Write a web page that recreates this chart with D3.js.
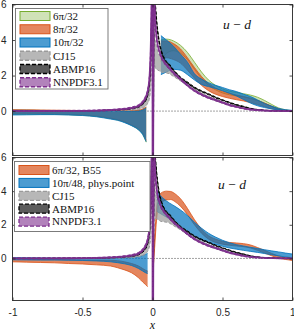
<!DOCTYPE html>
<html><head><meta charset="utf-8">
<script src="https://cdn.jsdelivr.net/npm/d3@7"></script>
<style>body{margin:0;background:#fff}svg{display:block}</style>
</head><body><svg id="c" width="294" height="330"></svg>
<script>
// ---------- ticks ----------
const xTicks = [-1, -0.5, 0, 0.5, 1];
const xTickLabels = ["-1", "-0.5", "0", "0.5", "1"];
const yTicks = [0, 2, 4, 6];
const yTickLabels = ["0", "2", "4", "6"];

// ---------- legends ----------
const topLegend = ["6π/32", "8π/32", "10π/32", "CJ15", "ABMP16", "NNPDF3.1"];
const botLegend = ["6π/32, B55", "10π/48, phys.point", "CJ15", "ABMP16", "NNPDF3.1"];

// ---------- top panel lattice (x<0) ----------
const tNegX = [-1, -0.9, -0.8, -0.7, -0.6, -0.5, -0.4, -0.3, -0.25, -0.2, -0.15, -0.1, -0.07, -0.045];
const g32NegLo = [-0.18, -0.18, -0.18, -0.19, -0.2, -0.24, -0.3, -0.42, -0.5, -0.62, -0.8, -1.05, -1.3, -1.75];
const g32NegHi = [0.05, 0.05, 0.04, 0.03, 0.02, 0.01, 0.0, 0.0, 0.0, 0.0, 0.0, 0.02, 0.08, 0.2];
const o32NegLo = [-0.15, -0.15, -0.16, -0.17, -0.19, -0.22, -0.28, -0.4, -0.48, -0.6, -0.78, -1.0, -1.25, -1.65];
const o32NegHi = [0.08, 0.07, 0.06, 0.05, 0.04, 0.03, 0.02, 0.01, 0.01, 0.02, 0.03, 0.06, 0.12, 0.24];
const b32NegLo = [-0.22, -0.21, -0.2, -0.2, -0.22, -0.25, -0.32, -0.45, -0.52, -0.65, -0.82, -1.06, -1.32, -1.72];
const b32NegHi = [0.04, 0.04, 0.03, 0.02, 0.01, 0.0, -0.01, -0.02, -0.02, -0.02, -0.02, 0.0, 0.06, 0.18];
// ---------- top panel lattice (x>0) ----------
const tPosX = [0.06, 0.1, 0.15, 0.2, 0.25, 0.3, 0.35, 0.4, 0.45, 0.5, 0.55, 0.6, 0.65, 0.7, 0.75, 0.8, 0.85, 0.9, 0.95, 1.0];
const g32PosHi = [4.0, 4.05, 3.95, 3.7, 3.3, 2.75, 2.2, 1.75, 1.45, 1.25, 1.12, 1.05, 0.98, 0.9, 0.78, 0.6, 0.38, 0.18, 0.07, 0.02];
const g32PosLo = [2.8, 3.25, 3.4, 3.25, 2.9, 2.35, 1.85, 1.45, 1.2, 1.02, 0.92, 0.85, 0.8, 0.72, 0.6, 0.45, 0.26, 0.1, 0.02, -0.02];
const o32PosHi = [3.95, 3.95, 3.8, 3.5, 3.0, 2.45, 1.95, 1.55, 1.3, 1.12, 1.0, 0.9, 0.82, 0.72, 0.6, 0.45, 0.28, 0.13, 0.05, 0.02];
const o32PosLo = [2.8, 3.0, 2.9, 2.7, 2.3, 1.85, 1.45, 1.15, 0.95, 0.82, 0.72, 0.64, 0.57, 0.48, 0.37, 0.25, 0.13, 0.05, 0.0, -0.02];
const b32PosHi = [4.25, 4.0, 3.65, 3.2, 2.75, 2.1, 1.8, 1.6, 1.45, 1.33, 1.2, 1.1, 0.95, 0.82, 0.63, 0.43, 0.28, 0.15, 0.08, 0.04];
const b32PosLo = [2.05, 2.2, 2.35, 2.3, 2.05, 1.75, 1.5, 1.38, 1.27, 1.15, 1.0, 0.85, 0.65, 0.45, 0.3, 0.2, 0.12, 0.06, 0.02, 0.0];

// ---------- bottom panel lattice ----------
const bNegX = [-1, -0.9, -0.8, -0.7, -0.6, -0.5, -0.4, -0.3, -0.25, -0.2, -0.15, -0.1, -0.07, -0.05, -0.035];
const b55NegHi = [0.0, -0.02, -0.04, -0.06, -0.08, -0.1, -0.1, -0.11, -0.13, -0.2, -0.3, -0.45, -0.6, -0.7, -0.75];
const b55NegLo = [-0.2, -0.22, -0.24, -0.26, -0.3, -0.33, -0.38, -0.45, -0.55, -0.68, -0.85, -1.15, -1.4, -1.55, -1.68];
const physNegHi = [0.05, 0.04, 0.03, 0.02, 0.01, 0.0, 0.0, 0.0, 0.02, 0.04, 0.06, 0.1, 0.18, 0.25, 0.3];
const physNegLo = [-0.08, -0.09, -0.1, -0.1, -0.11, -0.12, -0.15, -0.2, -0.25, -0.32, -0.42, -0.6, -0.75, -0.85, -0.9];
const b55PosX = [0.003, 0.015, 0.03, 0.05, 0.08, 0.1, 0.13, 0.16, 0.2, 0.25, 0.3, 0.35, 0.4, 0.45, 0.5, 0.55, 0.6, 0.65, 0.7, 0.75, 0.8, 0.85, 0.9, 0.95, 1.0];
const b55PosHi = [-0.5, 1.2, 3.0, 3.8, 3.97, 4.0, 3.98, 3.85, 3.55, 2.97, 2.3, 1.75, 1.35, 1.15, 1.02, 0.95, 0.92, 0.88, 0.8, 0.65, 0.48, 0.3, 0.15, 0.05, 0.0];
const b55PosLo = [-0.9, 0.6, 2.4, 3.2, 3.42, 3.48, 3.5, 3.38, 3.1, 2.6, 2.0, 1.5, 1.15, 0.95, 0.85, 0.78, 0.74, 0.7, 0.62, 0.48, 0.32, 0.16, 0.02, -0.06, -0.12];
const physPosX = [0.03, 0.05, 0.08, 0.12, 0.16, 0.2, 0.25, 0.3, 0.35, 0.4, 0.45, 0.5, 0.55, 0.6, 0.65, 0.7, 0.75, 0.8, 0.85, 0.9, 0.95, 1.0];
const physPosHi = [4.1, 3.8, 3.55, 3.3, 3.1, 2.88, 2.55, 2.15, 1.8, 1.5, 1.27, 1.08, 0.93, 0.82, 0.74, 0.66, 0.59, 0.52, 0.45, 0.39, 0.32, 0.26];
const physPosLo = [2.8, 2.7, 2.55, 2.35, 2.1, 1.85, 1.55, 1.3, 1.1, 0.95, 0.83, 0.72, 0.62, 0.55, 0.48, 0.42, 0.36, 0.29, 0.22, 0.15, 0.09, 0.04];

// ---------- phenomenological fits (both panels) ----------
const phenoX = [-1, -0.8, -0.6, -0.4, -0.3, -0.2, -0.15, -0.1, -0.07, -0.05, -0.035, -0.025, -0.018, -0.012, -0.008, -0.004, -0.0005, 0.0005, 0.004, 0.007, 0.01, 0.013, 0.016, 0.02, 0.025, 0.03, 0.04, 0.05, 0.06, 0.08, 0.1, 0.12, 0.15, 0.2, 0.25, 0.3, 0.35, 0.4, 0.45, 0.5, 0.55, 0.6, 0.65, 0.7, 0.8, 0.9, 1.0];
const cj15Mid = [0, 0.003, 0.006, 0.015, 0.03, 0.06, 0.1, 0.2, 0.3, 0.45, 0.65, 0.9, 1.3, 2.0, 3.2, 6, 12, -12, -4, 1, 3.5, 3.6, 3.4, 3.2, 3.05, 2.95, 2.8, 2.7, 2.6, 2.5, 2.4, 2.3, 2.1, 1.8, 1.5, 1.2, 0.97, 0.78, 0.63, 0.49, 0.36, 0.26, 0.17, 0.11, 0.04, 0.01, 0];
const cj15Err = [0.01, 0.01, 0.01, 0.01, 0.02, 0.03, 0.05, 0.1, 0.13, 0.18, 0.22, 0.3, 0.4, 0.6, 0.8, 1, 1, 1, 1, 1, 0.9, 0.85, 0.8, 0.75, 0.7, 0.6, 0.5, 0.45, 0.4, 0.32, 0.25, 0.2, 0.15, 0.1, 0.08, 0.07, 0.06, 0.05, 0.05, 0.04, 0.04, 0.03, 0.03, 0.02, 0.02, 0.01, 0.01];
const abmpMid = [0, 0.004, 0.008, 0.025, 0.05, 0.1, 0.15, 0.25, 0.42, 0.62, 0.92, 1.35, 2.0, 3.2, 4.8, 8, 14, -14, -8, -1, 6, 8, 7, 6.0, 5.5, 5.0, 4.3, 3.8, 3.45, 3.0, 2.75, 2.6, 2.3, 1.88, 1.6, 1.32, 1.12, 0.95, 0.77, 0.62, 0.48, 0.35, 0.25, 0.15, 0.04, 0.01, 0];
const abmpErr = [0.01, 0.01, 0.01, 0.01, 0.02, 0.02, 0.03, 0.04, 0.05, 0.06, 0.08, 0.1, 0.15, 0.2, 0.3, 0.4, 0.4, 0.4, 0.4, 0.4, 0.4, 0.3, 0.25, 0.2, 0.15, 0.12, 0.1, 0.08, 0.07, 0.06, 0.05, 0.05, 0.04, 0.04, 0.04, 0.03, 0.03, 0.03, 0.03, 0.02, 0.02, 0.02, 0.02, 0.01, 0.01, 0.01, 0.01];
const nnpdfMid = [0, 0.005, 0.01, 0.03, 0.06, 0.12, 0.18, 0.3, 0.5, 0.75, 1.1, 1.6, 2.4, 3.8, 5.5, 9, 14, -14, -5, 2, 8, 7, 5.8, 5.0, 4.5, 4.1, 3.6, 3.35, 3.1, 2.8, 2.6, 2.42, 2.15, 1.8, 1.45, 1.15, 0.93, 0.76, 0.62, 0.48, 0.34, 0.24, 0.15, 0.09, 0.03, 0.01, 0];
const nnpdfErr = [0.03, 0.03, 0.03, 0.03, 0.03, 0.04, 0.05, 0.06, 0.08, 0.1, 0.12, 0.15, 0.2, 0.3, 0.4, 0.5, 0.5, 0.5, 0.5, 0.5, 0.5, 0.4, 0.3, 0.25, 0.2, 0.15, 0.12, 0.1, 0.1, 0.08, 0.08, 0.07, 0.07, 0.06, 0.06, 0.05, 0.05, 0.05, 0.04, 0.04, 0.04, 0.03, 0.03, 0.03, 0.02, 0.02, 0.01];

// ---------- styles ----------
const ST = {
  green:  {fill: "#77ac30", op: 0.35, stroke: "#77ac30", dash: null, sw: 0.8},
  orange: {fill: "#d95319", op: 0.7,  stroke: "#d95319", dash: null, sw: 0.8},
  blue:   {fill: "#0072bd", op: 0.7,  stroke: "#0072bd", dash: null, sw: 0.8},
  cj:     {fill: "#999999", op: 0.7,  stroke: "#9a9a9a", dash: "3,2", sw: 1.0},
  abmp:   {fill: "#333333", op: 0.8,  stroke: "#000000", dash: "3,2", sw: 1.0},
  nnpdf:  {fill: "#7e2f8e", op: 0.6,  stroke: "#7e2f8e", dash: "3,2", sw: 1.0}
};

const svg = d3.select("#c");
const x = d3.scaleLinear().domain([-1, 1]).range([12.5, 292.5]);
const yTop = d3.scaleLinear().domain([-2.5, 6]).range([155.5, 4.5]);
const yBot = d3.scaleLinear().domain([-2.5, 6]).range([300.5, 157.5]);

function zip(xs, lo, hi) { return xs.map((v, i) => ({x: v, lo: lo[i], hi: hi[i]})); }

function drawBand(g, y, pts, st, center) {
  const area = d3.area().x(d => x(d.x)).y0(d => y(d.lo)).y1(d => y(d.hi)).curve(d3.curveMonotoneX);
  g.append("path").attr("d", area(pts)).attr("fill", st.fill).attr("fill-opacity", st.op).attr("stroke", "none");
  ["lo", "hi"].forEach(k => {
    const ln = d3.line().x(d => x(d.x)).y(d => y(d[k])).curve(d3.curveMonotoneX);
    const p = g.append("path").attr("d", ln(pts)).attr("fill", "none")
      .attr("stroke", st.stroke).attr("stroke-width", st.sw);
    if (st.dash) p.attr("stroke-dasharray", st.dash);
  });
  if (center) {
    const ln = d3.line().x(d => x(d.x)).y(d => y((d.lo + d.hi) / 2)).curve(d3.curveMonotoneX);
    g.append("path").attr("d", ln(pts)).attr("fill", "none")
      .attr("stroke", center.color).attr("stroke-width", center.w).attr("stroke-opacity", center.op);
  }
}

function pheno(mid, err) { return phenoX.map((v, i) => ({x: v, lo: mid[i] - err[i], hi: mid[i] + err[i]})); }

function panel(id, y, lattice, legendItems, legendBox, titlePos) {
  const [y0, y1] = y.range();
  const clipId = "clip" + id;
  svg.append("clipPath").attr("id", clipId).append("rect")
    .attr("x", x(-1)).attr("y", y1).attr("width", x(1) - x(-1)).attr("height", y0 - y1);
  const g = svg.append("g").attr("clip-path", `url(#${clipId})`);
  // zero line
  g.append("line").attr("x1", x(-1)).attr("x2", x(1)).attr("y1", y(0)).attr("y2", y(0))
    .attr("stroke", "#333").attr("stroke-width", 0.9).attr("stroke-dasharray", "1,2");
  lattice.forEach(l => l.parts.forEach(p => drawBand(g, y, p, l.st)));
  drawBand(g, y, pheno(cj15Mid, cj15Err), ST.cj);
  drawBand(g, y, pheno(abmpMid, abmpErr), ST.abmp, {color: "#000", w: 0.8, op: 0.6});
  drawBand(g, y, pheno(nnpdfMid, nnpdfErr), ST.nnpdf, {color: "#7e2f8e", w: 1.8, op: 0.85});

  // axes (inward ticks, MATLAB box)
  const tf = "Liberation Sans, Arial, sans-serif";
  const ax = (gen, tx, ty) => {
    const a = svg.append("g").attr("transform", `translate(${tx},${ty})`).call(gen);
    a.select(".domain").remove();
    a.selectAll("line").attr("stroke", "#262626").attr("stroke-width", 0.8);
    a.selectAll("text").attr("fill", "#262626").attr("font-family", tf).attr("font-size", 10);
    return a;
  };
  const isBottom = id === "b";
  const xb = ax(d3.axisBottom(x).tickValues(xTicks).tickSizeInner(-3).tickSizeOuter(0).tickPadding(8)
      .tickFormat((d, i) => isBottom ? xTickLabels[i] : ""), 0, y0);
  if (isBottom) {
    xb.selectAll("text").filter(d => d === 1).attr("text-anchor", "end").attr("dx", 2.5);
  }
  ax(d3.axisTop(x).tickValues(xTicks).tickSizeInner(-3).tickSizeOuter(0).tickFormat(""), 0, y1);
  ax(d3.axisLeft(y).tickValues(yTicks).tickSizeInner(-3).tickSizeOuter(0).tickPadding(6)
      .tickFormat((d, i) => yTickLabels[i]), x(-1), 0);
  ax(d3.axisRight(y).tickValues(yTicks).tickSizeInner(-3).tickSizeOuter(0).tickFormat(""), x(1), 0);
  svg.append("rect").attr("x", x(-1)).attr("y", y1).attr("width", x(1) - x(-1)).attr("height", y0 - y1)
    .attr("fill", "none").attr("stroke", "#262626").attr("stroke-width", 0.9);

  // title u - d
  const t = svg.append("text").attr("x", titlePos.x).attr("y", titlePos.y).attr("text-anchor", "middle")
    .attr("font-family", "Liberation Serif, Times New Roman, serif").attr("font-size", 13.5).attr("fill", "#111");
  t.append("tspan").attr("font-style", "italic").text("u");
  t.append("tspan").text(" − ");
  t.append("tspan").attr("font-style", "italic").text("d");

  // legend
  const lg = svg.append("g");
  lg.append("rect").attr("x", legendBox.x).attr("y", legendBox.y).attr("width", legendBox.w).attr("height", legendBox.h)
    .attr("fill", "#fff").attr("stroke", "#6e6e6e").attr("stroke-width", 0.9);
  legendItems.forEach((it, i) => {
    const cy = legendBox.row0 + i * legendBox.step;
    const st = it.st;
    lg.append("rect").attr("x", legendBox.sx).attr("y", cy - 4.5).attr("width", 30).attr("height", 9)
      .attr("fill", st.fill).attr("fill-opacity", st.op)
      .attr("stroke", st.stroke).attr("stroke-width", st.dash ? 1.3 : 1)
      .attr("stroke-dasharray", st.dash ? "4,2" : null);
    lg.append("text").attr("x", legendBox.sx + 33).attr("y", cy + 3.8)
      .attr("font-family", "Liberation Serif, Times New Roman, serif").attr("font-size", 11).attr("fill", "#111")
      .text(it.label);
  });
}

panel("t", yTop, [
  {st: ST.green, parts: [zip(tNegX, g32NegLo, g32NegHi), zip(tPosX, g32PosLo, g32PosHi)]},
  {st: ST.orange, parts: [zip(tNegX, o32NegLo, o32NegHi), zip(tPosX, o32PosLo, o32PosHi)]},
  {st: ST.blue, parts: [zip(tNegX, b32NegLo, b32NegHi), zip(tPosX, b32PosLo, b32PosHi)]}
], [
  {label: topLegend[0], st: ST.green}, {label: topLegend[1], st: ST.orange}, {label: topLegend[2], st: ST.blue},
  {label: topLegend[3], st: ST.cj}, {label: topLegend[4], st: ST.abmp}, {label: topLegend[5], st: ST.nnpdf}
], {x: 15.5, y: 8.5, w: 92.5, h: 80.5, sx: 20, row0: 16, step: 13.25}, {x: 237, y: 29});

panel("b", yBot, [
  {st: ST.orange, parts: [zip(bNegX, b55NegLo, b55NegHi), zip(b55PosX, b55PosLo, b55PosHi)]},
  {st: ST.blue, parts: [zip(bNegX, physNegLo, physNegHi), zip(physPosX, physPosLo, physPosHi)]}
], [
  {label: botLegend[0], st: ST.orange}, {label: botLegend[1], st: ST.blue},
  {label: botLegend[2], st: ST.cj}, {label: botLegend[3], st: ST.abmp}, {label: botLegend[4], st: ST.nnpdf}
], {x: 14.5, y: 161.5, w: 135.5, h: 70, sx: 19, row0: 170, step: 12.9}, {x: 232, y: 189});

// x label
svg.append("text").attr("x", x(0)).attr("y", 328.5).attr("text-anchor", "middle")
  .attr("font-family", "Liberation Serif, Times New Roman, serif").attr("font-style", "italic")
  .attr("font-size", 12).attr("fill", "#111").text("x");
</script></body></html>
